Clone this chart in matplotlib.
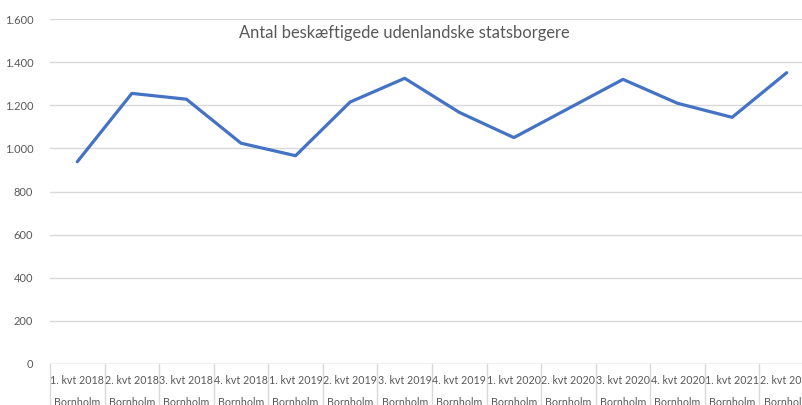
import numpy as np
import matplotlib.pyplot as plt
import matplotlib.transforms as mtransforms
from matplotlib.ticker import FuncFormatter

# --- DATA ---
quarters = ["1. kvt 2018", "2. kvt 2018", "3. kvt 2018", "4. kvt 2018",
            "1. kvt 2019", "2. kvt 2019", "3. kvt 2019", "4. kvt 2019",
            "1. kvt 2020", "2. kvt 2020", "3. kvt 2020", "4. kvt 2020",
            "1. kvt 2021", "2. kvt 2021"]
region = "Bornholm"
employed = [938, 1255, 1228, 1024, 966, 1215, 1325, 1167,
            1050, 1185, 1320, 1209, 1144, 1351]
y_ticks = [0, 200, 400, 600, 800, 1000, 1200, 1400, 1600]
title = "Antal beskæftigede udenlandske statsborgere"

# --- STYLE ---
plt.rcParams['font.family'] = ['Lato', 'DejaVu Sans']
TEXT_COLOR = "#595959"
GRID_COLOR = "#d9d9d9"
LINE_COLOR = "#4472C4"

fig = plt.figure(figsize=(8.02, 4.05), dpi=100)
# axes run past the right edge, like the cropped original
ax = fig.add_axes([50 / 802, 41 / 405, 764 / 802, 345 / 405])

x = np.arange(len(quarters))
ax.plot(x, employed, color=LINE_COLOR, linewidth=2.3, solid_capstyle='round')

ax.set_xlim(-0.5, len(quarters) - 0.5)
ax.set_ylim(0, 1600)
ax.set_yticks(y_ticks)
ax.yaxis.set_major_formatter(FuncFormatter(lambda v, p: f"{int(v):,}".replace(",", ".")))
ax.tick_params(axis='y', length=0, pad=12, labelsize=8, labelcolor=TEXT_COLOR)
ax.set_xticks([])
ax.grid(axis='y', color=GRID_COLOR, linewidth=1)
ax.set_axisbelow(True)
for side in ["top", "right", "left", "bottom"]:
    ax.spines[side].set_visible(False)
ax.axhline(0, color=GRID_COLOR, linewidth=1, zorder=0)

# multi-level category labels with separators
trans = mtransforms.blended_transform_factory(ax.transData, ax.transAxes)
for i, q in enumerate(quarters):
    ax.text(i, -16 / 345, q, transform=trans, ha='center', va='center',
            fontsize=7.7, color=TEXT_COLOR, clip_on=False)
    ax.text(i, -39 / 345, region, transform=trans, ha='center', va='center',
            fontsize=7.7, color=TEXT_COLOR, clip_on=False)
for i in range(len(quarters) + 1):
    ax.plot([i - 0.5, i - 0.5], [0, -45 / 345], transform=trans,
            color=GRID_COLOR, linewidth=1, clip_on=False)

fig.text(404 / 802, 1 - 33 / 405, title, ha='center', va='center',
         fontsize=11.9, color=TEXT_COLOR)

fig.savefig("out.png", dpi=100)
